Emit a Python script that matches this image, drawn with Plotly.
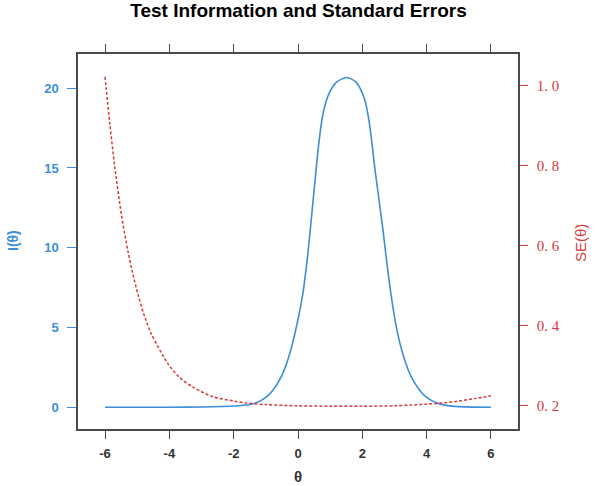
import plotly.graph_objects as go

# Test information I(theta)
theta_info = [-6, -5, -4, -3, -2, -1.5, -1.28, -1.0, -0.78, -0.5, -0.25, 0.0, 0.15,
              0.3, 0.39, 0.51, 0.65, 0.77, 0.93, 1.19, 1.52, 1.81, 2.07, 2.22, 2.4,
              2.63, 2.76, 2.89, 3.05, 3.25, 3.5, 3.77, 4.0, 4.3, 4.6, 5.0, 5.5, 6.0]
info = [0.0, 0.0, 0.005, 0.02, 0.08, 0.18, 0.3, 0.62, 1.07, 2.0, 3.4, 5.5, 7.1,
        9.5, 11.3, 13.8, 16.6, 18.3, 19.5, 20.36, 20.67, 20.36, 19.3, 17.8, 14.8,
        11.3, 9.1, 7.1, 5.1, 3.4, 2.0, 1.1, 0.62, 0.28, 0.12, 0.04, 0.01, 0.0]

# Standard error SE(theta)
theta_se = [-6, -5.85, -5.7, -5.49, -5.29, -5.15, -4.97, -4.8, -4.56, -4.04,
            -3.68, -3.25, -2.65, -2.0, -1.61, -1.0, 0.0, 1.0, 2.0, 3.0, 3.5,
            4.0, 4.5, 5.0, 5.5, 6.0]
se = [1.023, 0.905, 0.80, 0.678, 0.588, 0.535, 0.477, 0.431, 0.38, 0.305,
      0.271, 0.246, 0.223, 0.212, 0.207, 0.203, 0.2, 0.199, 0.199, 0.2, 0.202,
      0.204, 0.207, 0.212, 0.218, 0.225]

x_ticks = [-6, -4, -2, 0, 2, 4, 6]
x_tick_labels = ["-6", "-4", "-2", "0", "2", "4", "6"]
info_ticks = [0, 5, 10, 15, 20]
se_ticks = [0.2, 0.4, 0.6, 0.8, 1.0]
se_tick_labels = ["0. 2", "0. 4", "0. 6", "0. 8", "1. 0"]

blue = "#3A8FDA"
red = "#D93A3A"
frame = "#4a4a4a"
sans = "Liberation Sans, Arial, sans-serif"
serif = "Liberation Serif, Times New Roman, serif"

fig = go.Figure()

fig.add_trace(go.Scatter(
    x=theta_info, y=info,
    mode="lines",
    line=dict(color=blue, width=1.6, shape="spline", smoothing=0.8),
    showlegend=False,
    yaxis="y"
))

fig.add_trace(go.Scatter(
    x=theta_se, y=se,
    mode="lines",
    line=dict(color=red, width=1.5, dash="3px,2px", shape="spline", smoothing=0.8),
    showlegend=False,
    yaxis="y2"
))

fig.update_layout(
    width=597, height=486,
    margin=dict(l=78, r=79, t=54, b=57),
    paper_bgcolor="white",
    plot_bgcolor="white",
    title=dict(
        text="Test Information and Standard Errors",
        font=dict(family=sans, size=19, color="black", weight="bold"),
        x=298.5 / 597, xanchor="center", xref="container",
        y=1 - 10 / 486, yanchor="middle", yref="container"
    ),
    xaxis=dict(
        range=[-6.84, 6.84], automargin=False,
        tickvals=x_ticks, ticktext=x_tick_labels,
        ticks="outside", ticklen=8, tickwidth=1.3, tickcolor=frame,
        ticklabelstandoff=4,
        showline=True, linecolor=frame, linewidth=1.5, mirror="ticks",
        showgrid=False, zeroline=False,
        tickfont=dict(family=sans, size=13, color="#333333", weight="bold")
    ),
    yaxis=dict(
        range=[-1.36, 22.14], automargin=False,
        tickvals=info_ticks,
        ticks="outside", ticklen=9, tickwidth=1.3, tickcolor=blue,
        ticklabelstandoff=6,
        showline=True, linecolor=frame, linewidth=1.5,
        showgrid=False, zeroline=False,
        tickfont=dict(family=sans, size=13, color=blue, weight="bold")
    ),
    yaxis2=dict(
        range=[0.142, 1.08], automargin=False,
        overlaying="y", side="right",
        tickvals=se_ticks, ticktext=se_tick_labels,
        ticks="outside", ticklen=8, tickwidth=1.2, tickcolor=red,
        ticklabelstandoff=6,
        showline=True, linecolor=frame, linewidth=1.5,
        showgrid=False, zeroline=False,
        tickfont=dict(family=serif, size=15, color=red)
    )
)

# axis titles placed as annotations in paper coordinates
fig.add_annotation(text="<b>I(θ)</b>", xref="paper", yref="paper",
                   x=(13 - 78) / 440, y=(429 - 241) / 375, textangle=-90,
                   xanchor="center", yanchor="middle", showarrow=False,
                   font=dict(family=sans, size=14, color=blue))
fig.add_annotation(text="SE(θ)", xref="paper", yref="paper",
                   x=(580 - 78) / 440, y=(429 - 243) / 375, textangle=-90,
                   xanchor="center", yanchor="middle", showarrow=False,
                   font=dict(family=sans, size=15, color=red))
fig.add_annotation(text="<b>θ</b>", xref="paper", yref="paper",
                   x=0.5, y=(429 - 476) / 375,
                   xanchor="center", yanchor="middle", showarrow=False,
                   font=dict(family=sans, size=15, color="#333333"))

# drop the default page margin so the figure sits at the window corner
fig.write_html("out.html", config={"displayModeBar": False},
               post_script="document.body.style.margin='0';")
